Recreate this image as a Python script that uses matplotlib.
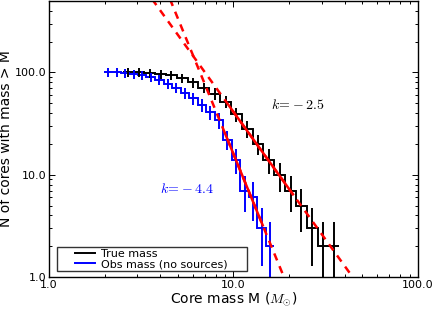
import numpy as np
import matplotlib
matplotlib.use('Agg')
import matplotlib.pyplot as plt
from matplotlib.ticker import FormatStrFormatter
from matplotlib.legend_handler import HandlerLine2D
from matplotlib.lines import Line2D

plt.rcParams['mathtext.fontset'] = 'cm'
plt.rcParams['font.family'] = 'DejaVu Sans'

# cumulative counts N(>M), log-spaced mass bins
true_mmin, true_mmax = 2.68, 35.0
true_n = [100, 100, 99, 97, 94, 88, 80, 71, 62, 52, 39, 28, 20, 14, 10, 7, 5, 3, 2, 2]
obs_mmin, obs_mmax = 2.09, 15.8
obs_n = [100, 100, 99, 97, 94, 90, 85, 78, 71, 63, 56, 48, 41, 34, 22, 14, 7, 6, 3, 2]

# power-law fits N = A * M**k
true_fit = dict(A=1.3e4, k=-2.5, lo=9.5, hi=21.0)
obs_fit = dict(A=4.0e5, k=-4.4, lo=9.0, hi=14.4)


def bins(mmin, mmax, n):
    lc = np.linspace(np.log10(mmin), np.log10(mmax), n)
    h = 0.5 * (lc[1] - lc[0])
    le = np.concatenate([[lc[0] - h], 0.5 * (lc[1:] + lc[:-1]), [lc[-1] + h]])
    return 10**lc, 10**le


class ShortLine(HandlerLine2D):
    # legend line only in the right part of the handle box
    def create_artists(self, legend, orig_handle, xdescent, ydescent,
                       width, height, fontsize, trans):
        y = height / 2.0 - ydescent
        x0 = -xdescent + width * 0.45
        ln = Line2D([x0, -xdescent + width], [y, y], color=orig_handle.get_color(),
                    lw=orig_handle.get_linewidth(), transform=trans)
        return [ln]


fig = plt.figure(figsize=(4.36, 3.09), dpi=100)
ax = fig.add_axes([0.1124, 0.1036, 0.8463, 0.8932])

handles = []
for n, mmin, mmax, col, lab in [(true_n, true_mmin, true_mmax, 'k', 'True mass'),
                                 (obs_n, obs_mmin, obs_mmax, 'b', 'Obs mass (no sources)')]:
    n = np.array(n, float)
    c, e = bins(mmin, mmax, len(n))
    ax.stairs(n, e, baseline=None, color=col, lw=1.4)
    ax.errorbar(c, n, yerr=np.sqrt(n), fmt='none', ecolor=col, elinewidth=1.4, capsize=0)
    handles.append(Line2D([], [], color=col, lw=1.4, label=lab))

mm = np.logspace(0, 2, 200)
for f in (true_fit, obs_fit):
    ax.plot(mm, f['A'] * mm**f['k'], 'r--', lw=1.8, dashes=(3, 2.5))
    ms = np.logspace(np.log10(f['lo']), np.log10(f['hi']), 50)
    ax.plot(ms, f['A'] * ms**f['k'], 'r-', lw=1.8)

ax.text(16.0, 47.7, r'$k\!=\!-2.5$', color='k', fontsize=10, va='center', ha='left')
ax.text(4.0, 7.2, r'$k\!=\!-4.4$', color='b', fontsize=10, va='center', ha='left')

ax.set_xscale('log')
ax.set_yscale('log')
ax.set_xlim(1, 100)
ax.set_ylim(1, 500)
ax.xaxis.set_major_formatter(FormatStrFormatter('%.1f'))
ax.yaxis.set_major_formatter(FormatStrFormatter('%.1f'))
ax.tick_params(which='both', direction='in', top=True, right=True, labelsize=8, width=0.7)
ax.tick_params(axis='y', pad=1.5)
ax.tick_params(axis='x', pad=2.0)
ax.tick_params(which='major', length=4)
ax.tick_params(which='minor', length=2.5)
for s in ax.spines.values():
    s.set_linewidth(1.0)
ax.set_xlabel(r'Core mass M ($M_{\odot}$)', fontsize=10, labelpad=0)
ax.set_ylabel('N of cores with mass > M', fontsize=10, labelpad=2)

leg = ax.legend(handles=handles, loc='lower left', mode='expand',
                bbox_to_anchor=(0.0217, 0.0217, 0.515, 0.1),
                fontsize=8, fancybox=False, handlelength=3.3, handletextpad=0.5,
                borderpad=0.15, labelspacing=0.05, borderaxespad=0.0,
                handler_map={Line2D: ShortLine()})
leg.get_frame().set_edgecolor('k')
leg.get_frame().set_linewidth(1.0)

fig.savefig('out.png', dpi=100)
